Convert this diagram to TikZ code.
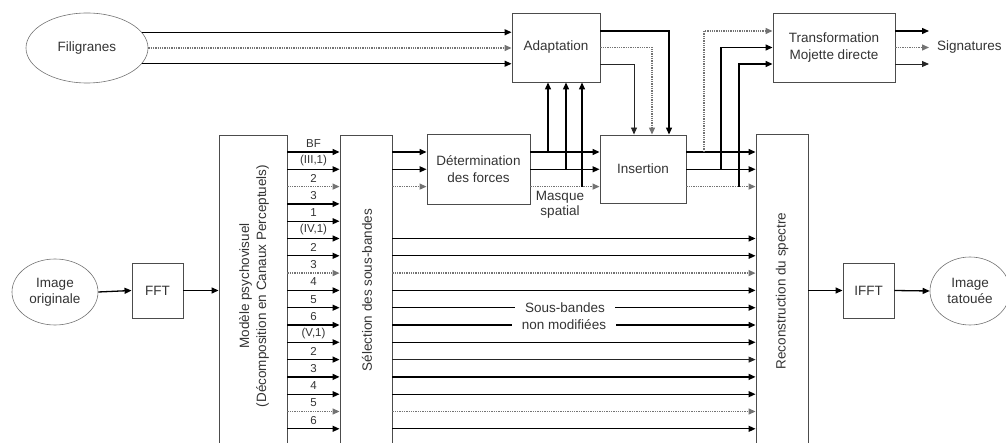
\documentclass[tikz,border=0pt]{standalone}
\usepackage{fontspec}
\setmainfont{Liberation Sans}
\usetikzlibrary{arrows.meta,shapes.geometric,calc}
\begin{document}
\begin{tikzpicture}[x=1pt,y=-1pt,
  box/.style={draw=black!70, line width=0.9pt, inner sep=0pt, text=black!80, align=center, font=\fontsize{13.5}{17}\selectfont},
  oval/.style={ellipse, draw=black!55, line width=0.6pt, inner sep=0pt, text=black!80, align=center, font=\fontsize{13.5}{16}\selectfont},
  txt/.style={text=black!80, align=center, inner sep=0pt, font=\fontsize{13.5}{17}\selectfont},
  lab/.style={text=black!80, inner sep=0pt, font=\fontsize{11.5}{13}\selectfont},
  sl/.style={line width=1.3pt, black},
  dl/.style={line width=1.3pt, black!55, densely dotted},
  tl/.style={line width=0.9pt, black!85},
  arr/.style={-{Triangle[length=7pt,width=6pt]}},
]
\useasboundingbox (0,0) rectangle (1006,443);

% nodes
\node[oval, minimum width=122pt, minimum height=70pt] (fil) at (87,48) {Filigranes};
\node[box, minimum width=88pt, minimum height=69pt] (ada) at (556,47.5) {Adaptation};
\node[box, minimum width=122pt, minimum height=69pt] (tra) at (834,47.5) {Transformation\\Mojette directe};
\node[txt, anchor=west] (sig) at (937,47.5) {Signatures};
\node[box, minimum width=103pt, minimum height=70pt] (det) at (478.5,169) {Détermination\\des forces};
\node[box, minimum width=86pt, minimum height=68pt] (ins) at (643,169) {Insertion};
\node[box, minimum width=68pt, minimum height=320pt] (mod) at (253,295) {};
\node[box, minimum width=52pt, minimum height=320pt] (sel) at (366,295) {};
\node[box, minimum width=52pt, minimum height=320pt] (rec) at (782,294) {};
\node[txt, rotate=90] (modt) at (254,286) {Modèle psychovisuel\\(Décomposition en Canaux Perceptuels)};
\node[txt, rotate=90] (selt) at (367,290) {Sélection des sous-bandes};
\node[txt, rotate=90] (rect) at (782,291) {Reconstruction du spectre};
\node[oval, minimum width=86pt, minimum height=66pt] (io) at (55,292) {Image\\originale};
\node[box, minimum width=51pt, minimum height=55pt] (fft) at (157.5,290.5) {FFT};
\node[box, minimum width=51pt, minimum height=55pt] (ifft) at (868.5,290.5) {IFFT};
\node[oval, minimum width=80pt, minimum height=68pt] (it) at (970,291) {Image\\tatouée};

% rows
\coordinate (t1) at (0,31);
\coordinate (t2) at (0,47.5);
\coordinate (t3) at (0,64);
\foreach \i in {0,...,16} {\coordinate (r\i) at (0,{152+17.3*\i});}

% Filigranes -> Adaptation
\draw[sl,arr] (fil.16) -- (fil.16 -| ada.west);
\draw[dl,arr] (fil.east) -- (fil.east -| ada.west);
\draw[sl,arr] (fil.-16) -- (fil.-16 -| ada.west);

% Adaptation -> Insertion
\draw[sl,arr] (ada.east |- t1) -| ([xshift=26pt]ins.north);
\draw[dl,arr] (ada.east |- t2) -| ([xshift=9pt]ins.north);
\draw[tl,arr] (ada.east |- t3) -| ([xshift=-9pt]ins.north);

% Determination -> Insertion, and branches to Adaptation
\draw[sl,arr] (det.east |- r0) -- (ins.west |- r0);
\draw[sl,arr] (det.east |- r1) -- (ins.west |- r1);
\draw[dl,arr] (det.east |- r2) -- (ins.west |- r2);
\coordinate (ba) at (548,152);
\coordinate (bb) at (566,169.3);
\coordinate (bc) at (582,186.6);
\draw[sl,arr] (ba) -- (ba |- ada.south);
\draw[sl,arr] (bb) -- (bb |- ada.south);
\draw[sl,arr] (bc) -- (bc |- ada.south);
\node[txt, font=\fontsize{13.5}{15}\selectfont] (masq) at (560,205) {Masque\\spatial};

% Insertion -> Reconstruction, and branches to Transformation
\draw[sl,arr] (ins.east |- r0) -- (rec.west |- r0);
\draw[sl,arr] (ins.east |- r1) -- (rec.west |- r1);
\draw[dl,arr] (ins.east |- r2) -- (rec.west |- r2);
\coordinate (ca) at (704,152);
\coordinate (cb) at (721,169.3);
\coordinate (cc) at (739,186.6);
\draw[dl,arr] (ca) |- (tra.west |- t1);
\draw[sl,arr] (cb) |- (tra.west |- t2);
\draw[sl,arr] (cc) |- (tra.west |- t3);

% Transformation -> Signatures
\draw[sl,arr] (tra.east |- t1) -- ([xshift=-8pt]sig.west |- t1);
\draw[dl,arr] (tra.east |- t2) -- ([xshift=-8pt]sig.west |- t2);
\draw[tl,arr] (tra.east |- t3) -- ([xshift=-8pt]sig.west |- t3);

% bands
\foreach \i/\t/\s in {0/BF/sl,1/{(III,1)}/sl,2/2/dl,3/3/sl,4/1/sl,5/{(IV,1)}/sl,6/2/sl,7/3/dl,8/4/sl,9/5/sl,10/6/sl,11/{(V,1)}/sl,12/2/sl,13/3/sl,14/4/sl,15/5/dl,16/6/sl} {
  \draw[\s,arr] (mod.east |- r\i) -- (sel.west |- r\i);
  \node[lab] (lab\i) at (313.5,{152+17.3*\i-8.5}) {\t};
}
\draw[sl,arr] (sel.east |- r0) -- (det.west |- r0);
\draw[sl,arr] (sel.east |- r1) -- (det.west |- r1);
\draw[dl,arr] (sel.east |- r2) -- (det.west |- r2);
\foreach \i/\s in {5/sl,6/sl,7/dl,8/sl,9/sl,10/sl,11/sl,12/tl,13/sl,14/sl,15/dl,16/sl} {
  \draw[\s,arr] (sel.east |- r\i) -- (rec.west |- r\i);
}
\node[txt, fill=white, inner xsep=10pt, inner ysep=2pt] (sb) at (565,307.7) {Sous-bandes};
\node[txt, fill=white, inner xsep=10pt, inner ysep=2pt] (nm) at (564,325) {non modifiées};

% FFT chain
\draw[sl,arr] (io.east) -- (fft.west);
\draw[sl,arr] (fft.east) -- (fft.east -| mod.west);
\draw[sl,arr] (rec.east |- ifft.west) -- (ifft.west);
\draw[sl,arr] (ifft.east) -- (it.west);
\end{tikzpicture}
\end{document}
